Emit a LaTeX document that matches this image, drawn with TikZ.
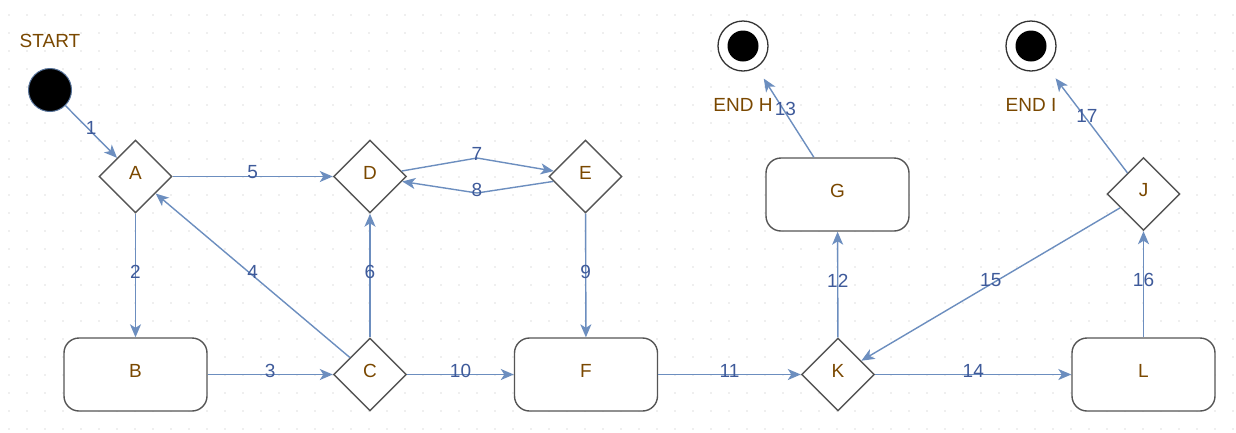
\documentclass[tikz,border=0pt]{standalone}
\usepackage{fontspec}
\setmainfont{Liberation Sans}
\usetikzlibrary{shapes.geometric,arrows.meta}
\definecolor{linecol}{RGB}{108,142,191}
\definecolor{labcol}{RGB}{62,90,154}
\definecolor{txtcol}{RGB}{122,72,0}
\definecolor{bordcol}{RGB}{85,85,85}
\definecolor{dotcol}{RGB}{190,190,190}
\begin{document}
\begin{tikzpicture}[x=1pt,y=-1pt,
  every node/.style={font=\fontsize{19}{19}\selectfont, text=txtcol},
  dec/.style={diamond, draw=bordcol, line width=1.4pt, fill=white, minimum width=73pt, minimum height=73pt, inner sep=0pt, text height=13.5pt, text depth=8pt},
  state/.style={rectangle, rounded corners=15pt, draw=bordcol, line width=1.4pt, fill=white, minimum width=143pt, minimum height=73pt, inner sep=0pt, text height=13.5pt, text depth=8pt},
  edge/.style={draw=linecol, line width=1.4pt, -{Stealth[length=13pt,width=11pt,inset=3.5pt]}},
  elab/.style={text=labcol, inner sep=0pt, yshift=4pt},
  endst/.style={circle, draw=black!80, line width=1.3pt, fill=white, minimum size=50pt, inner sep=0pt},
  plain/.style={inner sep=0pt}
]
\useasboundingbox (0,0) rectangle (1236,432);
\fill[white] (0,0) rectangle (1236,432);
\foreach \i in {0,...,68}{
  \foreach \j in {0,...,23}{
    \fill[dotcol] ({9+18*\i},{15+18*\j}) circle (0.6pt);
  }
}
% start
\node[circle, fill=black, draw=linecol!80!black, line width=1pt, minimum size=43pt, inner sep=0pt] (start) at (50,90) {};
\node[plain] (startlab) at (50,41) {START};
% decisions
\node[dec] (A) at (135.5,176.5) {A};
\node[dec] (D) at (370,176.5) {D};
\node[dec] (E) at (585.5,176.5) {E};
\node[dec] (C) at (370,374.5) {C};
\node[dec] (K) at (838,374.5) {K};
\node[dec] (J) at (1143.5,194) {J};
% states
\node[state] (B) at (135.5,374.5) {B};
\node[state] (F) at (586,374.5) {F};
\node[state] (L) at (1143.5,374.5) {L};
\node[state] (G) at (837.5,194.5) {G};
% end states
\node[endst] (endH) at (743,46) {};
\fill[black] (endH.center) circle (15.5pt);
\node[plain] (endHlab) at (743,105) {END H};
\node[endst] (endI) at (1031,46) {};
\fill[black] (endI.center) circle (15.5pt);
\node[plain] (endIlab) at (1031,105) {END I};
% waypoints
\coordinate (w7) at (477,158);
\coordinate (w8) at (477,193);
% edges
\draw[edge] (start) -- (A) node[elab, midway] {1};
\draw[edge] (A) -- (B) node[elab, midway] {2};
\draw[edge] (B) -- (C) node[elab, midway] {3};
\draw[edge] (C) -- (A) node[elab, midway] {4};
\draw[edge] (A) -- (D) node[elab, midway] {5};
\draw[edge] (C) -- (D) node[elab, midway] {6};
\draw[edge] (D) -- (w7) node[elab] {7} -- (E);
\draw[edge] (E) -- (w8) node[elab, yshift=-1pt] {8} -- (D);
\draw[edge] (E) -- (F) node[elab, midway] {9};
\draw[edge] (C) -- (F) node[elab, midway] {10};
\draw[edge] (F) -- (K) node[elab, midway] {11};
\draw[edge] (K) -- (G) node[elab, midway] {12};
\draw[edge, shorten >=13pt] (G) -- (endH) node[elab, midway] {13};
\draw[edge] (K) -- (L) node[elab, midway] {14};
\draw[edge] (J) -- (K) node[elab, midway] {15};
\draw[edge] (L) -- (J) node[elab, midway] {16};
\draw[edge, shorten >=15pt] (J) -- (endI) node[elab, midway] {17};
\end{tikzpicture}
\end{document}
